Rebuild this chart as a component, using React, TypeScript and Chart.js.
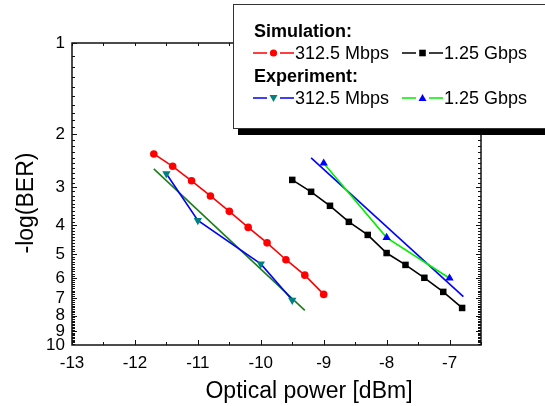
import React, { useEffect, useRef } from "react";
import { Chart, registerables } from "chart.js";

Chart.register(...registerables);

// ---- data ----
const simPower312 = [-11.7, -11.4, -11.1, -10.8, -10.5, -10.2, -9.9, -9.6, -9.3, -9.0];
const simBer312 = [2.33, 2.56, 2.86, 3.21, 3.61, 4.08, 4.59, 5.22, 5.87, 6.8];
const simPower125 = [-9.5, -9.2, -8.9, -8.6, -8.3, -8.0, -7.7, -7.4, -7.1, -6.8];
const simBer125 = [2.84, 3.11, 3.46, 3.91, 4.32, 4.96, 5.43, 5.99, 6.67, 7.54];
const expPower312 = [-11.5, -11.0, -10.0, -9.5];
const expBer312 = [2.71, 3.87, 5.39, 7.1];
const expPower125 = [-9.0, -8.0, -7.0];
const expBer125 = [2.5, 4.41, 6.01];
const fitPower312 = [-11.7, -9.3];
const fitBer312 = [2.61, 7.68];
const fitPower125 = [-9.2, -6.78];
const fitBer125 = [2.4, 6.92];

const xTickValues = [-13, -12, -11, -10, -9, -8, -7];
const yTickValues = [1, 2, 3, 4, 5, 6, 7, 8, 9, 10];

const xTitle = "Optical power [dBm]";
const yTitle = "-log(BER)";
const legendSimHeader = "Simulation:";
const legendExpHeader = "Experiment:";
const label312 = "312.5 Mbps";
const label125 = "1.25 Gbps";

const FONT = "'Liberation Sans', Arial, Helvetica, sans-serif";

const pts = (xs: number[], ys: number[]) => xs.map((x, i) => ({ x, y: ys[i] }));

function drawMarker(ctx: CanvasRenderingContext2D, kind: string, x: number, y: number, color: string) {
  ctx.fillStyle = color;
  ctx.beginPath();
  if (kind === "circle") {
    ctx.arc(x, y, 3.6, 0, Math.PI * 2);
  } else if (kind === "square") {
    ctx.rect(x - 3.3, y - 3.3, 6.6, 6.6);
  } else if (kind === "down") {
    ctx.moveTo(x - 4, y - 3);
    ctx.lineTo(x + 4, y - 3);
    ctx.lineTo(x, y + 4);
    ctx.closePath();
  } else {
    ctx.moveTo(x - 4, y + 3);
    ctx.lineTo(x + 4, y + 3);
    ctx.lineTo(x, y - 4);
    ctx.closePath();
  }
  ctx.fill();
}

function legendItem(ctx: CanvasRenderingContext2D, x: number, y: number, lineColor: string, marker: string, markerColor: string, text: string) {
  ctx.strokeStyle = lineColor;
  ctx.lineWidth = 1.6;
  ctx.beginPath();
  ctx.moveTo(x, y);
  ctx.lineTo(x + 14, y);
  ctx.moveTo(x + 27, y);
  ctx.lineTo(x + 41, y);
  ctx.stroke();
  drawMarker(ctx, marker, x + 20.5, y, markerColor);
  ctx.fillStyle = "#000";
  ctx.font = `18px ${FONT}`;
  ctx.textAlign = "left";
  ctx.textBaseline = "middle";
  ctx.fillText(text, x + 42, y + 1);
}

const framePlugin = {
  id: "frameTicks",
  beforeDatasetsDraw(chart: any) {
    const { ctx, chartArea: a, scales } = chart;
    const xs = scales.x;
    const ys = scales.y;
    ctx.save();
    ctx.strokeStyle = "#111";
    ctx.lineWidth = 1;
    ctx.beginPath();
    // x ticks (bottom & top), every 0.5 dBm
    for (let i = 0; i <= 13; i++) {
      const v = -13 + i * 0.5;
      const px = Math.round(xs.getPixelForValue(v)) + 0.5;
      const lenB = i % 2 === 0 ? 5 : 3;
      ctx.moveTo(px, a.bottom);
      ctx.lineTo(px, a.bottom - lenB);
      ctx.moveTo(px, a.top);
      ctx.lineTo(px, a.top + 3);
    }
    // y ticks (left & right): majors at integers, minors every 0.1
    for (let d = 1; d < 10; d++) {
      for (let k = 0; k < 10; k++) {
        const value = d + k * 0.1;
        const py = Math.round(ys.getPixelForValue(value)) + 0.5;
        const len = k === 0 ? 5 : 3;
        ctx.moveTo(a.left, py);
        ctx.lineTo(a.left + len, py);
        ctx.moveTo(a.right, py);
        ctx.lineTo(a.right - len, py);
      }
    }
    ctx.stroke();
    ctx.lineWidth = 1.5;
    ctx.strokeRect(a.left, a.top, a.right - a.left, a.bottom - a.top);
    ctx.restore();
  },
  afterDraw(chart: any) {
    const { ctx } = chart;
    ctx.save();
    // axis titles
    ctx.fillStyle = "#000";
    ctx.font = `23px ${FONT}`;
    ctx.textAlign = "center";
    ctx.textBaseline = "middle";
    ctx.fillText(xTitle, 309, 392);
    ctx.save();
    ctx.translate(27, 203);
    ctx.rotate(-Math.PI / 2);
    ctx.fillText(yTitle, 0, 0);
    ctx.restore();

    // legend box with shadow
    ctx.fillStyle = "#000";
    ctx.fillRect(238, 9, 330, 126);
    ctx.fillStyle = "#fff";
    ctx.fillRect(233.5, 4.5, 330, 124);
    ctx.strokeStyle = "#333";
    ctx.lineWidth = 1;
    ctx.strokeRect(233.5, 4.5, 330, 124);

    ctx.fillStyle = "#000";
    ctx.font = `bold 18px ${FONT}`;
    ctx.textAlign = "left";
    ctx.textBaseline = "middle";
    ctx.fillText(legendSimHeader, 254, 32);
    ctx.fillText(legendExpHeader, 254, 77);

    legendItem(ctx, 253, 53, "#ff0000", "circle", "#ff0000", label312);
    legendItem(ctx, 402, 53, "#000000", "square", "#000000", label125);
    legendItem(ctx, 253, 98, "#0000ff", "down", "#008080", label312);
    legendItem(ctx, 402, 98, "#00ee00", "up", "#0000ff", label125);
    ctx.restore();
  },
};

export default function App() {
  const ref = useRef<HTMLCanvasElement | null>(null);

  useEffect(() => {
    if (!ref.current) return;
    const chart = new Chart(ref.current, {
      type: "scatter",
      data: {
        datasets: [
          {
            label: "Sim 312.5",
            data: pts(simPower312, simBer312),
            showLine: true,
            borderColor: "#ff0000",
            backgroundColor: "#ff0000",
            borderWidth: 1.6,
            pointStyle: "circle",
            pointRadius: 3.8,
            pointBorderWidth: 0,
          },
          {
            label: "Sim 1.25",
            data: pts(simPower125, simBer125),
            showLine: true,
            borderColor: "#000000",
            backgroundColor: "#000000",
            borderWidth: 1.6,
            pointStyle: "rect",
            pointRadius: 4.6,
            pointBorderWidth: 0,
          },
          {
            label: "Exp 312.5",
            data: pts(expPower312, expBer312),
            showLine: true,
            borderColor: "#0000ff",
            backgroundColor: "#008080",
            pointBorderColor: "#008080",
            borderWidth: 1.6,
            pointStyle: "triangle",
            rotation: 180,
            pointRadius: 4.8,
            pointBorderWidth: 0,
          },
          {
            label: "Exp 1.25",
            data: pts(expPower125, expBer125),
            showLine: true,
            borderColor: "#00ee00",
            backgroundColor: "#0000ff",
            pointBorderColor: "#0000ff",
            borderWidth: 1.6,
            pointStyle: "triangle",
            pointRadius: 4.8,
            pointBorderWidth: 0,
          },
          {
            label: "Fit 312.5",
            data: pts(fitPower312, fitBer312),
            showLine: true,
            borderColor: "#1a7f1a",
            borderWidth: 1.6,
            pointRadius: 0,
          },
          {
            label: "Fit 1.25",
            data: pts(fitPower125, fitBer125),
            showLine: true,
            borderColor: "#0000ff",
            borderWidth: 1.6,
            pointRadius: 0,
          },
        ],
      },
      options: {
        responsive: false,
        animation: false,
        devicePixelRatio: 1,
        layout: { padding: { top: 43, right: 64, left: 0, bottom: 0 } },
        plugins: {
          legend: { display: false },
          tooltip: { enabled: false },
        },
        scales: {
          x: {
            type: "linear",
            position: "bottom",
            min: -13,
            max: -6.5,
            grid: { display: false, drawTicks: false },
            border: { display: false },
            afterBuildTicks: (s: any) => {
              s.ticks = xTickValues.map((v) => ({ value: v }));
            },
            afterFit: (s: any) => {
              s.height = 61;
            },
            ticks: {
              autoSkip: false,
              maxRotation: 0,
              padding: 8,
              color: "#000",
              font: { family: FONT, size: 17 },
              callback: (v: any) => String(v),
            },
          },
          y: {
            type: "logarithmic",
            position: "left",
            min: 1,
            max: 10,
            reverse: true,
            grid: { display: false, drawTicks: false },
            border: { display: false },
            afterBuildTicks: (s: any) => {
              s.ticks = yTickValues.map((v) => ({ value: v }));
            },
            afterFit: (s: any) => {
              s.width = 72;
            },
            ticks: {
              autoSkip: false,
              padding: 7,
              color: "#000",
              font: { family: FONT, size: 17 },
              callback: (v: any) => String(v),
            },
          },
        },
      },
      plugins: [framePlugin],
    } as any);
    return () => chart.destroy();
  }, []);

  return (
    <div style={{ position: "fixed", left: 0, top: 0, width: 545, height: 406, background: "#fff" }}>
      <canvas ref={ref} width={545} height={406} style={{ width: 545, height: 406, display: "block" }} />
    </div>
  );
}
